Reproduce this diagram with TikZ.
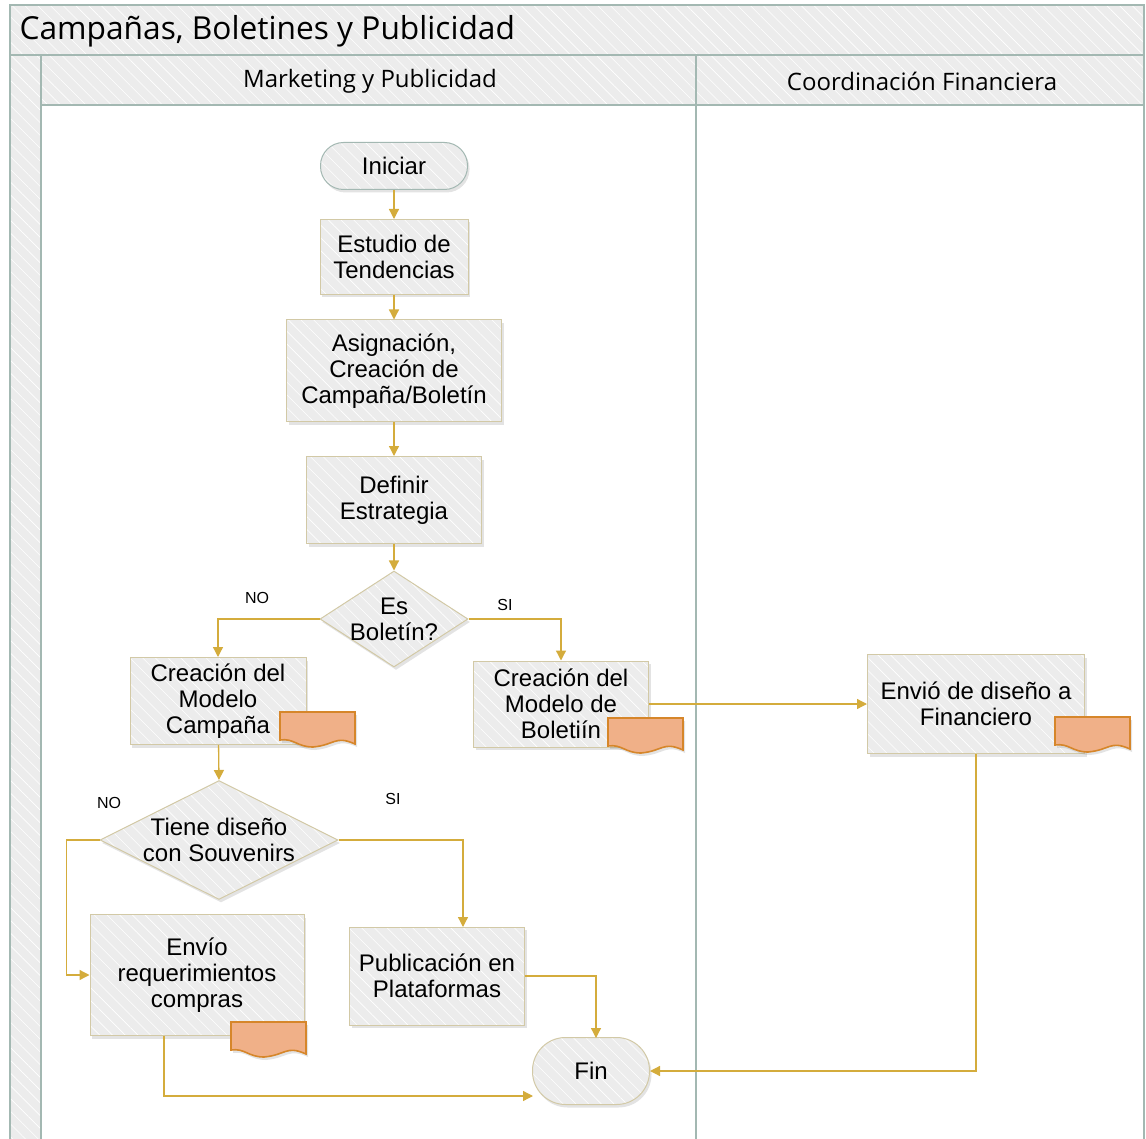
\documentclass[tikz,border=0pt]{standalone}
\usepackage{fontspec}
\setmainfont{Liberation Sans}
\newfontfamily\lanefont{Open Sans}
\usetikzlibrary{arrows.meta,shapes.geometric,shadows,patterns.meta}

\definecolor{framecol}{HTML}{A3B8B2}
\definecolor{bandfill}{HTML}{ECECEC}
\definecolor{boxfill}{HTML}{ECECEC}
\definecolor{boxline}{HTML}{D2C9A6}
\definecolor{flowcol}{HTML}{D4AC3C}
\definecolor{docfill}{HTML}{F0B088}
\definecolor{docline}{HTML}{D6862A}

\tikzset{
  % light fill with faint diagonal stripes, drawn under the outline
  hatchfill/.style={preaction={fill=#1},
    preaction={pattern={Lines[angle=-45,distance=9pt,line width=0.6pt]},pattern color=white,fill opacity=0.5}},
  band/.style={draw=framecol,line width=1.2pt,hatchfill=bandfill},
  shade/.style={drop shadow={opacity=0.22,shadow xshift=2pt,shadow yshift=-3pt}},
  txt/.style={font=\fontsize{24}{26}\selectfont,align=center,text=black},
  stepbox/.style={shade,hatchfill=boxfill,draw=boxline,line width=1pt,txt,inner sep=0pt},
  terminal/.style={stepbox,rounded corners=#1},
  % empty diamond of fixed size; its text is set as a centred label
  decision/.style={shape=diamond,stepbox,label={[txt]center:#1}},
  flow/.style={draw=flowcol,line width=1.3pt,-{Triangle[length=10pt,width=10pt]}},
  doc/.style={draw=docline,line width=1.6pt,fill=docfill,shade},
  tag/.style={font=\fontsize{16}{18}\selectfont,text=black},
  lanehead/.style={font=\lanefont\fontsize{24}{26}\selectfont},
}

% document symbol anchored at its top-left corner (width 75, height 36)
\newcommand{\docsym}[2]{%
  \path[doc] (#1,#2) -- ++(75,0) -- ++(0,32)
    .. controls +(-20,-9) and +(22,-2) .. ++(-42,3)
    .. controls +(-16,0) and +(14,-2) .. ++(-33,-7) -- cycle;}

\begin{document}
\begin{tikzpicture}[x=1pt,y=-1pt]
\useasboundingbox (0,0) rectangle (1146,1139);

% pool, title band and lanes
\path[band] (10,5) rectangle (1144,55);
\node[anchor=west,font=\lanefont\fontsize{31.7}{34}\selectfont] (pooltitle) at (16,31) {Campañas, Boletines y Publicidad};
\path[band] (10,55) rectangle (41,1150);
\path[band] (41,55) rectangle (696,105);
\path[band] (696,55) rectangle (1144,105);
\draw[framecol,line width=1.2pt] (696,105) -- (696,1150);
\draw[framecol,line width=1.2pt] (1144,105) -- (1144,1150);
\node[lanehead] (lanemkt) at (370,81) {Marketing y Publicidad};
\node[lanehead] (lanefin) at (922,81) {Coordinación Financiera};

% flow nodes
\node[terminal=23pt,draw=framecol,minimum width=147pt,minimum height=47pt] (start) at (394,166) {Iniciar};
\node[stepbox,minimum width=148pt,minimum height=75pt] (study) at (394,257) {Estudio de\\Tendencias};
\node[stepbox,minimum width=215pt,minimum height=102pt] (assign) at (394,371) {Asignación,\\Creación de\\Campaña/Boletín};
\node[stepbox,minimum width=175pt,minimum height=87pt] (strategy) at (394,500) {Definir\\Estrategia};
\node[decision={Es\\Boletín?},minimum width=148pt,minimum height=96pt] (isbol) at (394,619) {};
\node[stepbox,minimum width=176pt,minimum height=87pt] (campaign) at (218,701) {Creación del\\Modelo\\Campaña};
\node[stepbox,minimum width=175pt,minimum height=86pt] (bulletin) at (561,704) {Creación del\\Modelo de\\Boletiín};
\node[stepbox,minimum width=217pt,minimum height=99pt] (sendfin) at (976,704) {Envió de diseño a\\Financiero};
\node[decision={Tiene diseño\\con Souvenirs},minimum width=238pt,minimum height=119pt] (souv) at (219,840) {};
\node[stepbox,minimum width=214pt,minimum height=121pt] (purchase) at (197,975) {Envío\\requerimientos\\compras};
\node[stepbox,minimum width=175pt,minimum height=98pt] (publish) at (437,976) {Publicación en\\Plataformas};
\node[terminal=33pt,minimum width=117pt,minimum height=67pt] (finish) at (591,1071) {Fin};

% document symbols
\docsym{280}{712}
\docsym{608}{718}
\docsym{1055}{717}
\docsym{231}{1022}

% branch labels
\node[tag] (isbolno) at (257,598) {NO};
\node[tag] (isbolsi) at (505,605) {SI};
\node[tag] (souvno) at (109,803) {NO};
\node[tag] (souvsi) at (393,799) {SI};

% connectors
\coordinate (fin-in-top) at (596,1038);
\coordinate (fin-in-left) at (533,1096);
\coordinate (pub-in) at (463,927);

\draw[flow] (start) -- (study);
\draw[flow] (study) -- (assign);
\draw[flow] (assign) -- (strategy);
\draw[flow] (strategy) -- (isbol);
\draw[flow] (isbol.west) -| (campaign.north);
\draw[flow] (isbol.east) -| (bulletin.north);
\draw[flow] (bulletin.east) -- (sendfin.west);
\draw[flow] (campaign) -- (souv.north);
\draw[flow] (souv.west) -- ++(-33,0) |- (purchase.west);
\draw[flow] (souv.east) -| (pub-in);
\draw[flow] (publish.east) -| (fin-in-top);
\draw[flow] (purchase.south -| 164,0) |- (fin-in-left);
\draw[flow] (sendfin.south) |- (finish.east);
\end{tikzpicture}
\end{document}
